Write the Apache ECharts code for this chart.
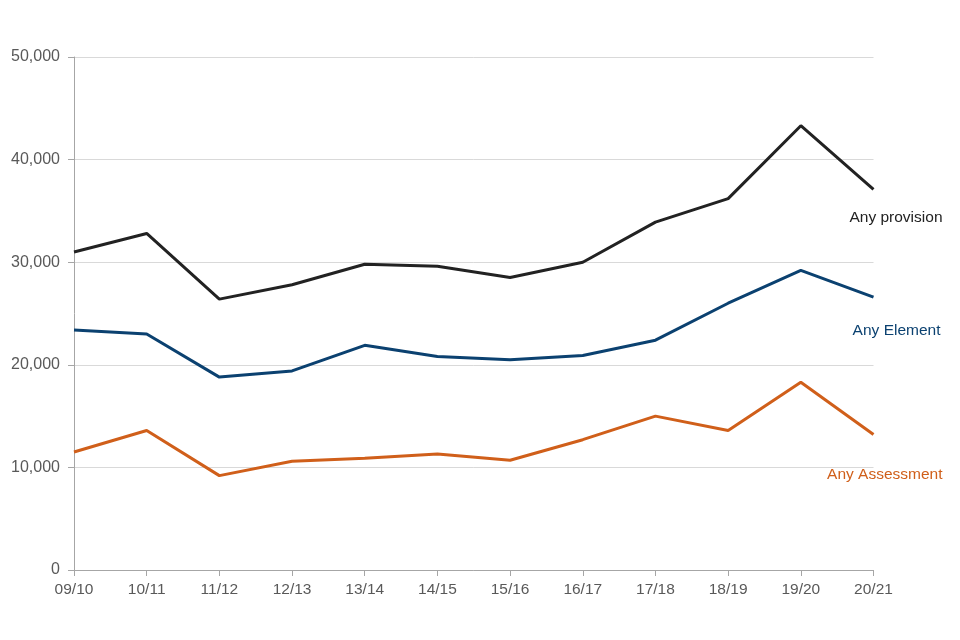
<!DOCTYPE html>
<html>
<head>
<meta charset="utf-8">
<script src="https://cdn.jsdelivr.net/npm/echarts@6/dist/echarts.min.js"></script>
<style>html,body{margin:0;padding:0;background:#fff;}#c{width:960px;height:640px;}</style>
</head>
<body>
<div id="c"></div>
<script>
const categories = ['09/10','10/11','11/12','12/13','13/14','14/15','15/16','16/17','17/18','18/19','19/20','20/21'];
const anyProvision = [31000, 32800, 26400, 27800, 29800, 29600, 28500, 30000, 33900, 36200, 43300, 37100];
const anyElement = [23400, 23000, 18800, 19400, 21900, 20800, 20500, 20900, 22400, 26000, 29200, 26600];
const anyAssessment = [11500, 13600, 9200, 10600, 10900, 11300, 10700, 12700, 15000, 13600, 18300, 13200];

const font = 'Arial, "Liberation Sans", sans-serif';
function lineSeries(name, data, color, offset) {
  return {
    name: name, type: 'line', data: data, symbol: 'none', smooth: false,
    lineStyle: { color: color, width: 3 },
    itemStyle: { color: color },
    endLabel: {
      show: true, formatter: name, color: color, fontFamily: font, fontSize: 15.5,
      align: 'right', verticalAlign: 'middle', distance: 5, offset: offset
    },
    emphasis: { disabled: true }
  };
}
const chart = echarts.init(document.getElementById('c'));
chart.setOption({
  backgroundColor: '#fff',
  animation: false,
  grid: { left: 74, right: 86.5, top: 57, bottom: 70, containLabel: false },
  xAxis: {
    type: 'category', data: categories, boundaryGap: false,
    axisLine: { lineStyle: { color: '#a6a6a6', width: 1 } },
    axisTick: { show: true, length: 6, alignWithLabel: true, lineStyle: { color: '#a6a6a6' } },
    axisLabel: { color: '#595959', fontFamily: font, fontSize: 15.5, margin: 12, interval: 0 },
    splitLine: { show: false }
  },
  yAxis: {
    type: 'value', min: 0, max: 50000, interval: 10000,
    axisLine: { show: true, lineStyle: { color: '#a6a6a6', width: 1 } },
    axisTick: { show: true, length: 6, lineStyle: { color: '#a6a6a6' } },
    axisLabel: { color: '#595959', fontFamily: font, fontSize: 16, margin: 14,
      formatter: v => v.toLocaleString('en-GB') },
    splitLine: { lineStyle: { color: '#d9d9d9', width: 1 } }
  },
  series: [
    lineSeries('Any provision', anyProvision, '#222222', [64, 28]),
    lineSeries('Any Element', anyElement, '#0b4170', [62, 34]),
    lineSeries('Any Assessment', anyAssessment, '#d05f1a', [64, 40])
  ]
});
</script>
</body>
</html>
